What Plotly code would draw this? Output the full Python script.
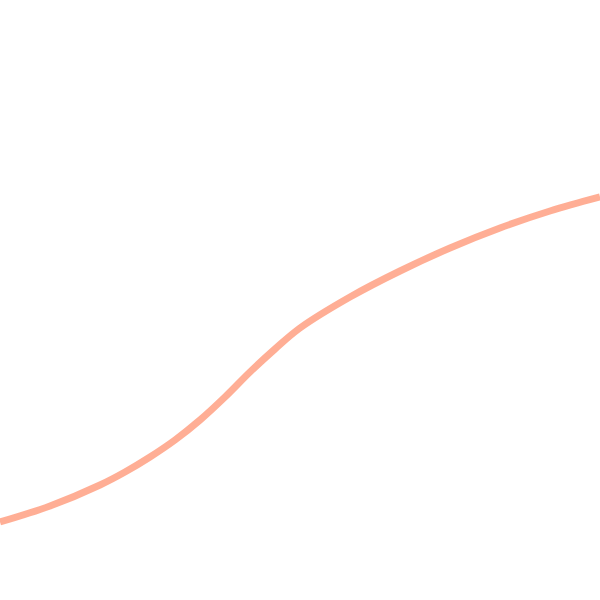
import plotly.graph_objects as go

# values (x across, y = height from bottom, both 0..600)
xs = [0, 50, 100, 125, 150, 175, 200, 225, 250, 275, 300, 350, 400, 450, 500, 550, 600]
ys = [78, 94, 115, 128, 143, 160, 180, 203, 228, 251, 272, 303, 329, 352, 372, 389, 403]

fig = go.Figure()
fig.add_trace(go.Scatter(
    x=xs, y=ys, mode='lines',
    line=dict(color='rgba(255,160,130,0.85)', width=7, shape='spline', smoothing=1.0),
    hoverinfo='skip', showlegend=False
))

fig.update_layout(
    width=600, height=600,
    margin=dict(l=0, r=0, t=0, b=0),
    paper_bgcolor='white', plot_bgcolor='white',
    xaxis=dict(range=[0, 600], visible=False),
    yaxis=dict(range=[0, 600], visible=False),
)

# drop the default 8px body margin so the plot fills the window
fig.write_html("out.html", config={'displayModeBar': False},
               post_script="document.body.style.margin='0';")
